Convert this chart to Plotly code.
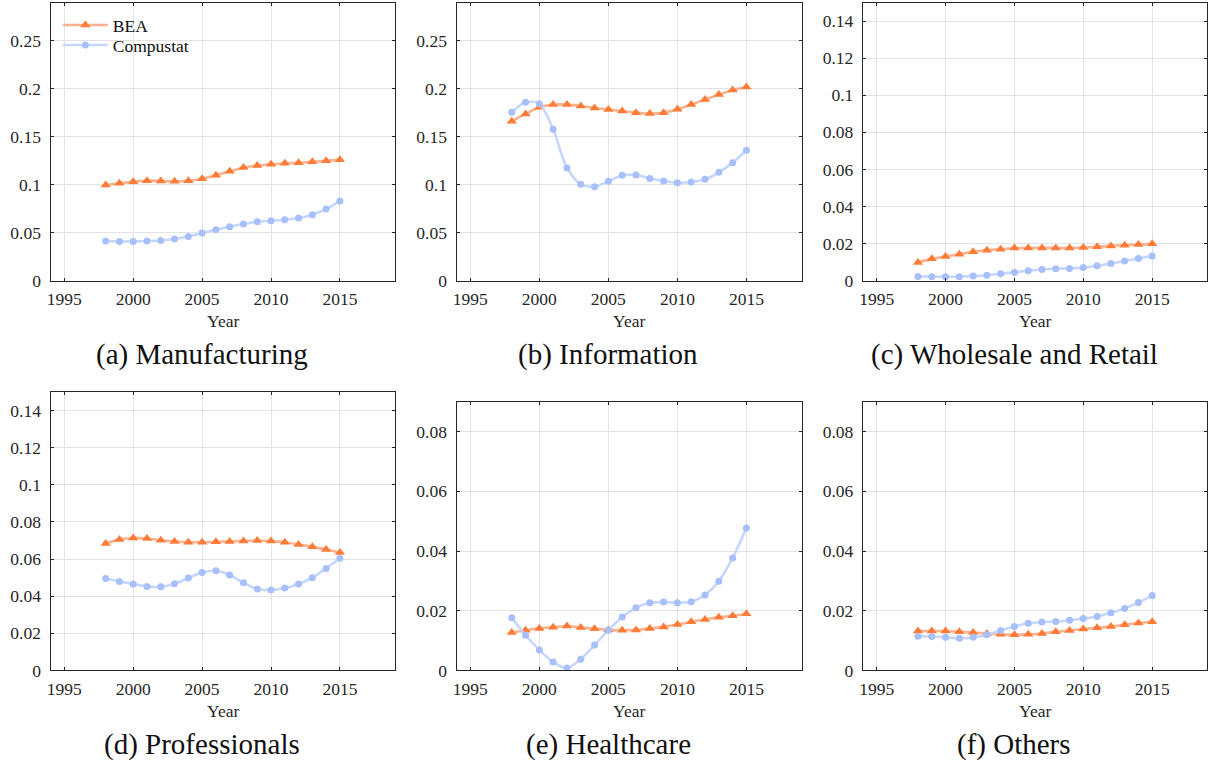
import plotly.graph_objects as go

years = list(range(1998, 2016))

panel_titles = ["(a) Manufacturing", "(b) Information", "(c) Wholesale and Retail",
                "(d) Professionals", "(e) Healthcare", "(f) Others"]

bea_manufacturing = [0.0998, 0.1015, 0.1033, 0.1043, 0.1040, 0.1036, 0.1043, 0.1064, 0.1100,
                     0.1140, 0.1180, 0.1200, 0.1213, 0.1224, 0.1230, 0.1240, 0.1250, 0.1260]
comp_manufacturing = [0.0414, 0.0410, 0.0410, 0.0414, 0.0420, 0.0435, 0.0462, 0.0497, 0.0532,
                      0.0563, 0.0591, 0.0615, 0.0626, 0.0636, 0.0654, 0.0688, 0.0748, 0.0831]

bea_information = [0.1662, 0.1739, 0.1808, 0.1836, 0.1836, 0.1822, 0.1801, 0.1784, 0.1770,
                   0.1752, 0.1742, 0.1752, 0.1787, 0.1836, 0.1888, 0.1940, 0.1989, 0.2020]
comp_information = [0.1756, 0.1860, 0.1846, 0.1579, 0.1175, 0.1005, 0.0980, 0.1036, 0.1099,
                    0.1102, 0.1067, 0.1040, 0.1022, 0.1029, 0.1057, 0.1130, 0.1231, 0.1360]

bea_wholesale = [0.0099, 0.0118, 0.0131, 0.0143, 0.0156, 0.0165, 0.0170, 0.0176, 0.0177,
                 0.0177, 0.0177, 0.0177, 0.0179, 0.0183, 0.0188, 0.0192, 0.0195, 0.0199]
comp_wholesale = [0.0023, 0.0022, 0.0022, 0.0022, 0.0025, 0.0030, 0.0038, 0.0045, 0.0054,
                  0.0061, 0.0065, 0.0066, 0.0072, 0.0081, 0.0093, 0.0106, 0.0120, 0.0134]

bea_professionals = [0.0684, 0.0705, 0.0714, 0.0711, 0.0702, 0.0695, 0.0691, 0.0691, 0.0693,
                     0.0695, 0.0698, 0.0700, 0.0697, 0.0691, 0.0679, 0.0666, 0.0652, 0.0636]
comp_professionals = [0.0496, 0.0480, 0.0466, 0.0453, 0.0451, 0.0467, 0.0498, 0.0528, 0.0537,
                      0.0514, 0.0473, 0.0439, 0.0433, 0.0444, 0.0466, 0.0500, 0.0550, 0.0605]

bea_healthcare = [0.0127, 0.0135, 0.0141, 0.0145, 0.0149, 0.0144, 0.0140, 0.0136, 0.0135,
                  0.0136, 0.0141, 0.0146, 0.0154, 0.0163, 0.0171, 0.0178, 0.0183, 0.0190]
comp_healthcare = [0.0177, 0.0118, 0.0069, 0.0028, 0.0008, 0.0038, 0.0085, 0.0135, 0.0179,
                   0.0210, 0.0227, 0.0229, 0.0227, 0.0230, 0.0253, 0.0299, 0.0377, 0.0477]

bea_others = [0.0132, 0.0132, 0.0132, 0.0130, 0.0127, 0.0124, 0.0121, 0.0120, 0.0121,
              0.0124, 0.0130, 0.0134, 0.0139, 0.0143, 0.0147, 0.0153, 0.0159, 0.0163]
comp_others = [0.0115, 0.0114, 0.0111, 0.0108, 0.0111, 0.0120, 0.0134, 0.0147, 0.0158,
               0.0162, 0.0164, 0.0168, 0.0174, 0.0181, 0.0193, 0.0208, 0.0228, 0.0251]

bea_series = [bea_manufacturing, bea_information, bea_wholesale,
              bea_professionals, bea_healthcare, bea_others]
comp_series = [comp_manufacturing, comp_information, comp_wholesale,
               comp_professionals, comp_healthcare, comp_others]

y_ranges = [[0, 0.29], [0, 0.29], [0, 0.15], [0, 0.15], [0, 0.09], [0, 0.09]]
y_dticks = [0.05, 0.05, 0.02, 0.02, 0.02, 0.02]
x_tickvals = [1995, 2000, 2005, 2010, 2015]

W, H = 1214, 764
H_EFF = 752  # effective drawn height observed in the renderer
# plot areas in pixels: (left, right, top, bottom)
boxes = [(46.7, 392.3, 2.5, 280), (454, 800.3, 2.5, 280), (861.7, 1207.3, 2.5, 280),
         (46.7, 392.3, 391, 668.7), (454, 800.3, 400.7, 668.7), (861.7, 1207.3, 400.7, 668.7)]


def py(px):
    return max(0.0, min(1.0, 1 - px / H_EFF))


FONT = "Liberation Serif"
BEA_LINE = "rgba(252,170,130,0.9)"
BEA_MARK = "#FF7B38"
COMP_LINE = "rgba(195,212,252,0.95)"
COMP_MARK = "#A7C0FA"

fig = go.Figure()
annotations = []
axes_layout = {}
for i in range(6):
    xa = "x" if i == 0 else f"x{i+1}"
    ya = "y" if i == 0 else f"y{i+1}"
    fig.add_trace(go.Scatter(
        x=years, y=bea_series[i], xaxis=xa, yaxis=ya, name="BEA", legend="legend",
        mode="lines+markers", line=dict(color=BEA_LINE, width=2.6, shape="spline", smoothing=0.8),
        marker=dict(symbol="triangle-up", size=9, color=BEA_MARK),
        showlegend=(i == 0)))
    fig.add_trace(go.Scatter(
        x=years, y=comp_series[i], xaxis=xa, yaxis=ya, name="Compustat", legend="legend2",
        mode="lines+markers", line=dict(color=COMP_LINE, width=2.6, shape="spline", smoothing=0.8),
        marker=dict(symbol="circle", size=7, color=COMP_MARK),
        showlegend=(i == 0)))
    l, r, t, b = boxes[i]
    xdom = [l / W, r / W]
    ydom = [py(b), py(t)]
    axkey = "xaxis" if i == 0 else f"xaxis{i+1}"
    aykey = "yaxis" if i == 0 else f"yaxis{i+1}"
    axes_layout[axkey] = dict(domain=xdom, range=[1994, 2019], tickvals=x_tickvals, anchor=ya,
                              ticklabelstandoff=2)
    axes_layout[aykey] = dict(domain=ydom, range=y_ranges[i], dtick=y_dticks[i], tick0=0,
                              tickmode="linear", anchor=xa, ticklabelstandoff=5)
    cx = (l + r) / 2 / W
    annotations.append(dict(text="Year", x=cx, y=py(b + 40), xref="paper", yref="paper",
                            showarrow=False, xanchor="center", yanchor="middle",
                            font=dict(family=FONT, size=17.5, color="#262626")))
    cap_y = 354 if i < 3 else 743
    annotations.append(dict(text=panel_titles[i], x=cx - 21 / W, y=py(cap_y),
                            xref="paper", yref="paper", showarrow=False,
                            xanchor="center", yanchor="middle",
                            font=dict(family=FONT, size=29, color="#111111")))

legend_common = dict(xanchor="left", yanchor="middle", bgcolor="rgba(0,0,0,0)",
                     font=dict(family=FONT, size=17.5, color="#111111"), itemwidth=45)

fig.update_layout(
    width=W, height=H, margin=dict(l=0, r=0, t=0, b=0),
    paper_bgcolor="white", plot_bgcolor="white",
    font=dict(family=FONT, size=17.5, color="#262626"),
    annotations=annotations,
    legend=dict(x=54 / W, y=py(25), **legend_common),
    legend2=dict(x=54 / W, y=py(45), **legend_common),
    **axes_layout,
)

axis_style = dict(showline=True, linecolor="#262626", linewidth=1.2, mirror="ticks",
                  ticks="inside", ticklen=3, tickcolor="#262626", tickwidth=1,
                  showgrid=True, gridcolor="#E3E3E3", gridwidth=1, zeroline=False,
                  tickfont_family=FONT, tickfont_size=17.5, tickfont_color="#262626")
fig.update_xaxes(**axis_style)
fig.update_yaxes(**axis_style)

fig.write_html("out.html")
